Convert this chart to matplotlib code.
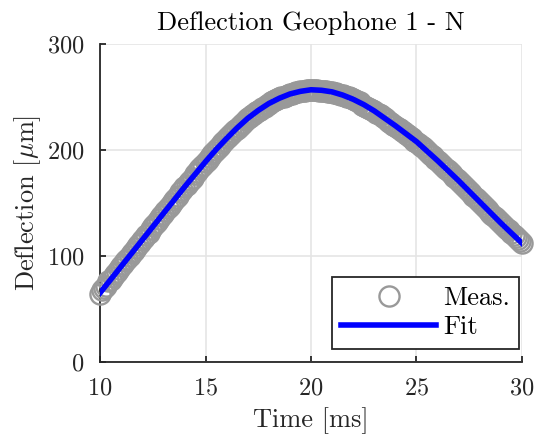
import numpy as np
import matplotlib
matplotlib.use('Agg')
import matplotlib.pyplot as plt

plt.rcParams['font.family'] = ['cmr10', 'DejaVu Serif']
plt.rcParams['mathtext.fontset'] = 'cm'
plt.rcParams['axes.formatter.use_mathtext'] = True

# measured deflection, sampled every 0.1 ms from 10 to 30 ms
meas_t = np.round(np.arange(10.0, 30.05, 0.1), 1)
meas_um = [
    64, 68, 70, 72, 76, 77, 80, 83, 85, 88,
    90, 92, 95, 97, 100, 103, 105, 107, 110, 112,
    115, 117, 120, 122, 125, 128, 130, 132, 135, 138,
    140, 142, 145, 147, 150, 153, 155, 157, 160, 162,
    165, 167, 170, 172, 174, 177, 179, 182, 184, 186,
    189, 191, 193, 196, 198, 200, 202, 204, 207, 209,
    211, 213, 215, 217, 219, 220, 222, 224, 226, 228,
    230, 231, 233, 234, 236, 237, 238, 240, 241, 243,
    244, 245, 246, 247, 248, 249, 250, 250, 251, 252,
    253, 253, 254, 255, 255, 256, 256, 256, 257, 257,
    257, 257, 257, 257, 256, 256, 256, 256, 255, 255,
    255, 254, 254, 253, 252, 252, 251, 250, 250, 249,
    248, 247, 246, 245, 243, 242, 241, 240, 239, 238,
    237, 235, 234, 233, 231, 230, 228, 227, 226, 224,
    223, 221, 220, 218, 217, 215, 214, 212, 211, 209,
    208, 206, 204, 203, 201, 199, 197, 195, 194, 192,
    190, 188, 186, 184, 182, 181, 179, 177, 175, 173,
    171, 169, 167, 165, 163, 161, 159, 157, 155, 153,
    151, 149, 147, 145, 143, 141, 139, 137, 135, 133,
    131, 129, 127, 125, 124, 122, 120, 118, 116, 114,
    112,
]

# fitted curve
fit_t = np.arange(10.0, 30.01, 0.5)
fit_um = [65, 77.5, 90, 102.5, 115, 127.5, 140, 152.5, 165, 177,
          189, 200.5, 211, 221, 230, 237.5, 244, 249, 253, 255.5,
          257, 256.5, 255, 252, 248, 243, 237, 230, 223, 215.5,
          208, 199, 190, 180.5, 171, 161, 151, 141, 131, 121.5, 112]

xticks = [10, 15, 20, 25, 30]
yticks = [0, 100, 200, 300]

fs = 19
dark = '#262626'

fig = plt.figure(figsize=(5.34, 4.34), dpi=100)
ax = fig.add_axes([0.1873, 0.1666, 0.7902, 0.7314])

ax.plot(meas_t, meas_um, 'o', ms=14.5, mfc='none', mec='#999999', mew=1.7,
        clip_on=False, label='Meas.', zorder=3)
ax.plot(fit_t, fit_um, '-', color='#0000ff', lw=4, label='Fit', zorder=4)

ax.set_xlim(10, 30)
ax.set_ylim(0, 300)
ax.set_xticks(xticks)
ax.set_yticks(yticks)
ax.grid(True, color='#e5e5e5', lw=1.2)
ax.set_axisbelow(True)
for s in ['top', 'right']:
    ax.spines[s].set_visible(False)
for s in ['left', 'bottom']:
    ax.spines[s].set_color(dark)
    ax.spines[s].set_linewidth(1.3)
ax.tick_params(direction='in', length=4, width=1.3, color=dark,
               labelsize=17.5, labelcolor=dark, pad=11)

ax.set_title('Deflection Geophone 1 - N', fontsize=fs, pad=10)
ax.set_xlabel('Time [ms]', fontsize=fs, color=dark, labelpad=6)
ax.set_ylabel(r'Deflection [$\mu$m]', fontsize=fs, color=dark, labelpad=3)

leg = ax.legend(loc='lower right', bbox_to_anchor=(0.993, 0.041),
                fontsize=fs, numpoints=1, handlelength=3.6,
                borderaxespad=0, fancybox=False, framealpha=1,
                edgecolor=dark, handletextpad=0.25, labelspacing=0.2,
                borderpad=0.35)
leg.get_frame().set_linewidth(1.3)

fig.savefig('out.png', dpi=100)
